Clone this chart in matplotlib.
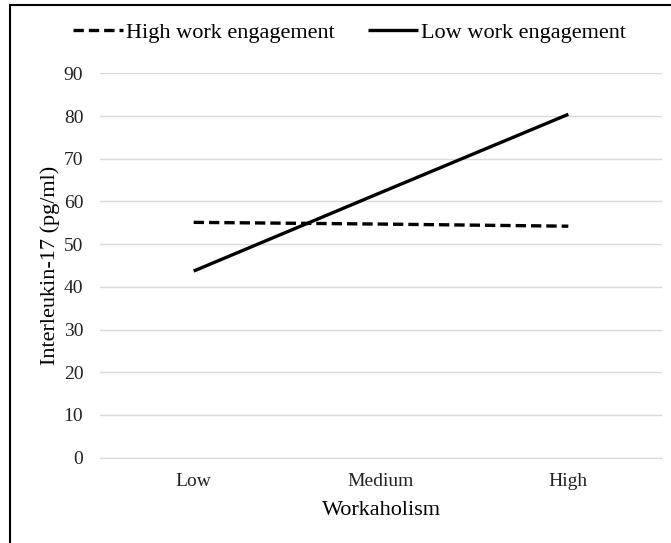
import matplotlib
matplotlib.use("Agg")
import matplotlib.pyplot as plt
from matplotlib.patches import Rectangle

categories = ["Low", "Medium", "High"]
high_engagement = [55.1, 54.7, 54.2]
low_engagement = [43.7, 62.1, 80.4]
yticks = [0, 10, 20, 30, 40, 50, 60, 70, 80, 90]

plt.rcParams['font.family'] = ['Liberation Serif', 'DejaVu Serif']

fig = plt.figure(figsize=(6.71, 5.43), dpi=100)
ax = fig.add_axes([100/671, 1-457.7/543, 562/671, (457.7-73.3)/543])

x = list(range(len(categories)))
l1, = ax.plot(x, high_engagement, color='black', lw=2.4, linestyle=(0, (3.1, 1.5)),
              dash_capstyle='butt', label='High work engagement')
l2, = ax.plot(x, low_engagement, color='black', lw=2.4, solid_capstyle='butt',
              label='Low work engagement')

ax.set_xlim(-0.5, 2.5)
ax.set_ylim(0, 90)
ax.set_yticks(yticks)
ax.set_xticks(x)
ax.set_xticklabels(categories)
ax.grid(axis='y', color='#D9D9D9', lw=1)
ax.set_axisbelow(True)
for s in ['top', 'right', 'left']:
    ax.spines[s].set_visible(False)
ax.spines['bottom'].set_color('#D9D9D9')
ax.tick_params(axis='both', length=0, labelsize=14, colors='#222222')
ax.tick_params(axis='y', pad=12)
ax.tick_params(axis='x', pad=11)
ax.set_xlabel('Workaholism', fontsize=16, labelpad=8)
ax.set_ylabel('Interleukin-17 (pg/ml)', fontsize=16, labelpad=3)

fig.legend(handles=[l1, l2], loc='center', bbox_to_anchor=(0.521, 1-33/543), ncol=2,
           frameon=False, fontsize=16, handlelength=2.25, handletextpad=0.15,
           columnspacing=1.5, borderaxespad=0, borderpad=0)

fig.patches.append(Rectangle((10/671, -0.1), 1.2, 1-5/543+0.1, transform=fig.transFigure,
                             fill=False, edgecolor='black', lw=1.5))

fig.savefig('out.png', dpi=100)
